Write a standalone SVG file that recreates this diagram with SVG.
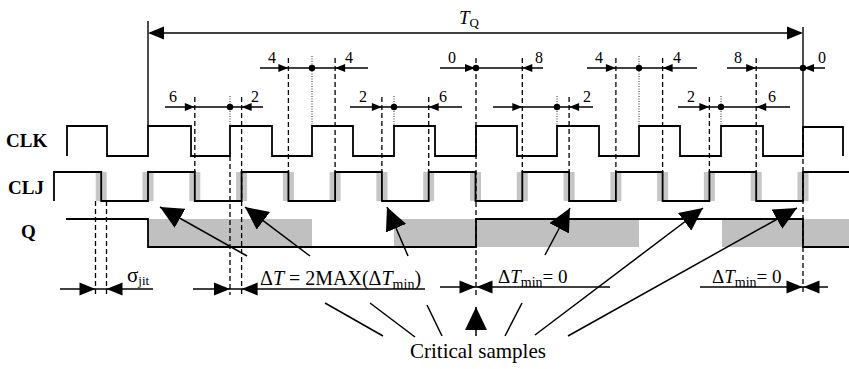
<svg xmlns="http://www.w3.org/2000/svg" xmlns:xlink="http://www.w3.org/1999/xlink" width="849" height="369" viewBox="0 0 849 369">
<style>
.wave{fill:none;stroke:#000;stroke-width:1.8}
.dim{fill:none;stroke:#000;stroke-width:1.4}
.dash{fill:none;stroke:#000;stroke-width:1.3;stroke-dasharray:5,3}
.dot{fill:none;stroke:#444;stroke-width:1.1;stroke-dasharray:1,1.5}
.crit{fill:none;stroke:#000;stroke-width:1.5}
.band{fill:#c6c6c6}
.qfill{fill:#c0c0c0}
.lbl{font-family:"Liberation Serif","Times New Roman",serif;font-weight:bold;font-size:19px;fill:#000}
.num{font-family:"Liberation Serif","Times New Roman",serif;font-size:16px;fill:#000;text-anchor:middle}
.txt{font-family:"Liberation Serif","Times New Roman",serif;fill:#000}
.it{font-style:italic}
</style>
<defs>
<path id="sR" d="M-10,-4L0,0L-10,4Z" fill="#000"/>
<path id="mR" d="M-16,-6.5L0,0L-16,6.5Z" fill="#000"/>
<marker id="big" markerUnits="userSpaceOnUse" viewBox="0 0 24 22" markerWidth="24" markerHeight="22" refX="23" refY="11" orient="auto">
<path d="M0,0L23,11L0,22Z" fill="#000"/>
</marker>
</defs>
<rect width="849" height="369" fill="#fff"/>

<g id="labels">
<text class="lbl" x="6" y="147">CLK</text>
<text class="lbl" x="8" y="194">CLJ</text>
<text class="lbl" x="21" y="238">Q</text>
</g>

<g id="clj">
<g class="band">
<rect x="95.7" y="172" width="11" height="29"/>
<rect x="142.5" y="172" width="11" height="29"/>
<rect x="189.3" y="172" width="11" height="29"/>
<rect x="236.1" y="172" width="11" height="29"/>
<rect x="282.9" y="172" width="11" height="29"/>
<rect x="329.6" y="172" width="11" height="29"/>
<rect x="376.4" y="172" width="11" height="29"/>
<rect x="423.2" y="172" width="11" height="29"/>
<rect x="470" y="172" width="11" height="29"/>
<rect x="516.8" y="172" width="11" height="29"/>
<rect x="563.6" y="172" width="11" height="29"/>
<rect x="610.4" y="172" width="11" height="29"/>
<rect x="657.1" y="172" width="11" height="29"/>
<rect x="703.9" y="172" width="11" height="29"/>
<rect x="750.7" y="172" width="11" height="29"/>
<rect x="797.5" y="172" width="11" height="29"/>
</g>
<path class="wave" d="M54,201V172H101.2V201H148V172H194.8V201H241.6V172H288.4V201H335.1V172H381.9V201H428.7V172H475.5V201H522.3V172H569.1V201H615.9V172H662.6V201H709.4V172H756.2V201H803V172H849"/>
</g>

<g id="q">
<rect class="qfill" x="148" y="219" width="164" height="28"/>
<rect class="qfill" x="394" y="219" width="245" height="28"/>
<rect class="qfill" x="722" y="219" width="127" height="28"/>
<path class="wave" d="M66,219H148V247H476V219H803V247H849"/>
</g>

<g id="clk">
<path class="wave" d="M67,156V126H107V156H148V126H191V156H230V126H272V156H312V126H353V156H394V126H435V156H476V126H517V156H557V126H599V156H639V126H680V156H721V126H763V156H803V127H843V156"/>
</g>

<g id="tq">
<line class="dim" x1="148" y1="21" x2="148" y2="126"/>
<line class="dim" x1="803" y1="27" x2="803" y2="127"/>
<line class="dim" x1="150" y1="33" x2="801" y2="33"/>
<use xlink:href="#mR" transform="translate(148,33) scale(-1,1)"/>
<use xlink:href="#mR" transform="translate(803,33)"/>
<text class="txt" x="459" y="24"><tspan class="it" style="font-size:19px">T</tspan><tspan style="font-size:13px" dy="3">Q</tspan></text>
</g>

<g id="connectors">
<g id="guides">
<line class="dash" x1="288.4" y1="58" x2="288.4" y2="172"/>
<line class="dash" x1="335.1" y1="58" x2="335.1" y2="172"/>
<line class="dash" x1="522.3" y1="58" x2="522.3" y2="172"/>
<line class="dash" x1="615.9" y1="58" x2="615.9" y2="172"/>
<line class="dash" x1="662.6" y1="58" x2="662.6" y2="172"/>
<line class="dash" x1="756.2" y1="58" x2="756.2" y2="172"/>
<line class="dash" x1="476" y1="58" x2="476" y2="295"/>
<line class="dash" x1="194.8" y1="97" x2="194.8" y2="172"/>
<line class="dash" x1="381.9" y1="97" x2="381.9" y2="172"/>
<line class="dash" x1="428.7" y1="97" x2="428.7" y2="172"/>
<line class="dash" x1="569.1" y1="97" x2="569.1" y2="172"/>
<line class="dash" x1="709.4" y1="97" x2="709.4" y2="172"/>
<line class="dash" x1="241.6" y1="97" x2="241.6" y2="295"/>
<line class="dash" x1="230" y1="156" x2="230" y2="295"/>
<line class="dash" x1="803" y1="127" x2="803" y2="295"/>
<line class="dash" x1="95.5" y1="201" x2="95.5" y2="295"/>
<line class="dash" x1="106.5" y1="201" x2="106.5" y2="295"/>
<line class="dot" x1="312" y1="56" x2="312" y2="126"/>
<line class="dot" x1="639" y1="56" x2="639" y2="126"/>
<line class="dot" x1="230" y1="96" x2="230" y2="126"/>
<line class="dot" x1="394" y1="96" x2="394" y2="126"/>
<line class="dot" x1="557" y1="96" x2="557" y2="126"/>
<line class="dot" x1="721" y1="96" x2="721" y2="126"/>
</g>

<g id="top-dims">
<line class="dim" x1="260" y1="68" x2="368" y2="68"/>
<line class="dim" x1="440" y1="68" x2="543" y2="68"/>
<line class="dim" x1="587" y1="68" x2="697" y2="68"/>
<line class="dim" x1="727" y1="68" x2="825" y2="68"/>
<use xlink:href="#sR" transform="translate(288.4,68)"/>
<use xlink:href="#sR" transform="translate(335.1,68) scale(-1,1)"/>
<use xlink:href="#sR" transform="translate(475,68)"/>
<use xlink:href="#sR" transform="translate(522.3,68) scale(-1,1)"/>
<use xlink:href="#sR" transform="translate(615.9,68)"/>
<use xlink:href="#sR" transform="translate(662.6,68) scale(-1,1)"/>
<use xlink:href="#sR" transform="translate(756.2,68)"/>
<use xlink:href="#sR" transform="translate(804,68) scale(-1,1)"/>
<circle cx="312" cy="68" r="3.2"/>
<circle cx="476" cy="68" r="3.2"/>
<circle cx="639" cy="68" r="3.2"/>
<circle cx="803" cy="68" r="3.2"/>
</g>

<g id="mid-dims">
<line class="dim" x1="165" y1="107" x2="263" y2="107"/>
<line class="dim" x1="350" y1="107" x2="462" y2="107"/>
<line class="dim" x1="493" y1="107" x2="593" y2="107"/>
<line class="dim" x1="678" y1="107" x2="790" y2="107"/>
<use xlink:href="#sR" transform="translate(194.8,107)"/>
<use xlink:href="#sR" transform="translate(241.6,107) scale(-1,1)"/>
<use xlink:href="#sR" transform="translate(381.9,107)"/>
<use xlink:href="#sR" transform="translate(428.7,107) scale(-1,1)"/>
<use xlink:href="#sR" transform="translate(522.3,107)"/>
<use xlink:href="#sR" transform="translate(569.1,107) scale(-1,1)"/>
<use xlink:href="#sR" transform="translate(709.4,107)"/>
<use xlink:href="#sR" transform="translate(756.2,107) scale(-1,1)"/>
<circle cx="230" cy="107" r="3.2"/>
<circle cx="394" cy="107" r="3.2"/>
<circle cx="557" cy="107" r="3.2"/>
<circle cx="721" cy="107" r="3.2"/>
</g>

<g id="bottom-dims">
<line class="dim" x1="60" y1="289" x2="153" y2="289"/>
<use xlink:href="#mR" transform="translate(95.5,289)"/>
<use xlink:href="#mR" transform="translate(106.5,289) scale(-1,1)"/>
<line class="dim" x1="193" y1="289" x2="425" y2="289"/>
<use xlink:href="#mR" transform="translate(230,289)"/>
<use xlink:href="#mR" transform="translate(241.6,289) scale(-1,1)"/>
<line class="dim" x1="440" y1="287" x2="610" y2="287"/>
<use xlink:href="#mR" transform="translate(475.5,287)"/>
<use xlink:href="#mR" transform="translate(476.5,287) scale(-1,1)"/>
<line class="dim" x1="700" y1="287" x2="828" y2="287"/>
<use xlink:href="#mR" transform="translate(802.5,287)"/>
<use xlink:href="#mR" transform="translate(803.5,287) scale(-1,1)"/>
</g>

<g id="critical">
<line class="crit" x1="247" y1="256" x2="160" y2="207" marker-end="url(#big)"/>
<line class="crit" x1="310" y1="256" x2="245" y2="207" marker-end="url(#big)"/>
<line class="crit" x1="408" y1="256" x2="387" y2="207" marker-end="url(#big)"/>
<line class="crit" x1="545" y1="255" x2="570" y2="208" marker-end="url(#big)"/>
<line class="crit" x1="535" y1="335" x2="703" y2="208" marker-end="url(#big)"/>
<line class="crit" x1="568" y1="336" x2="797" y2="208" marker-end="url(#big)"/>
<line class="crit" x1="476" y1="336" x2="476" y2="307" marker-end="url(#big)"/>
<line class="crit" x1="325" y1="303" x2="383" y2="336"/>
<line class="crit" x1="370" y1="303" x2="415" y2="337"/>
<line class="crit" x1="427" y1="305" x2="442" y2="336"/>
<line class="crit" x1="522" y1="303" x2="505" y2="336"/>
</g>
</g>

<g id="numbers">
<text class="num" x="272" y="63">4</text>
<text class="num" x="349" y="63">4</text>
<text class="num" x="452" y="63">0</text>
<text class="num" x="539" y="63">8</text>
<text class="num" x="599" y="63">4</text>
<text class="num" x="677" y="63">4</text>
<text class="num" x="738" y="63">8</text>
<text class="num" x="822" y="63">0</text>
<text class="num" x="173" y="102">6</text>
<text class="num" x="255" y="102">2</text>
<text class="num" x="363" y="102">2</text>
<text class="num" x="443" y="102">6</text>
<text class="num" x="587" y="102">2</text>
<text class="num" x="691" y="102">2</text>
<text class="num" x="772" y="102">6</text>
</g>

<g id="annotations">
<text class="txt" x="127" y="282"><tspan style="font-size:21px">σ</tspan><tspan style="font-size:13px" dy="3">jit</tspan></text>
<text class="txt" x="260" y="285" style="font-size:20px">Δ<tspan class="it">T</tspan> = 2MAX(Δ<tspan class="it">T</tspan><tspan style="font-size:14px" dy="4">min</tspan><tspan dy="-4">)</tspan></text>
<text class="txt" x="498" y="283" style="font-size:19px">Δ<tspan class="it">T</tspan><tspan style="font-size:14px" dy="4">min</tspan><tspan dy="-4">= 0</tspan></text>
<text class="txt" x="712" y="283" style="font-size:19px">Δ<tspan class="it">T</tspan><tspan style="font-size:14px" dy="4">min</tspan><tspan dy="-4">= 0</tspan></text>
<text class="txt" x="410" y="358" style="font-size:21px">Critical samples</text>
</g>
</svg>
